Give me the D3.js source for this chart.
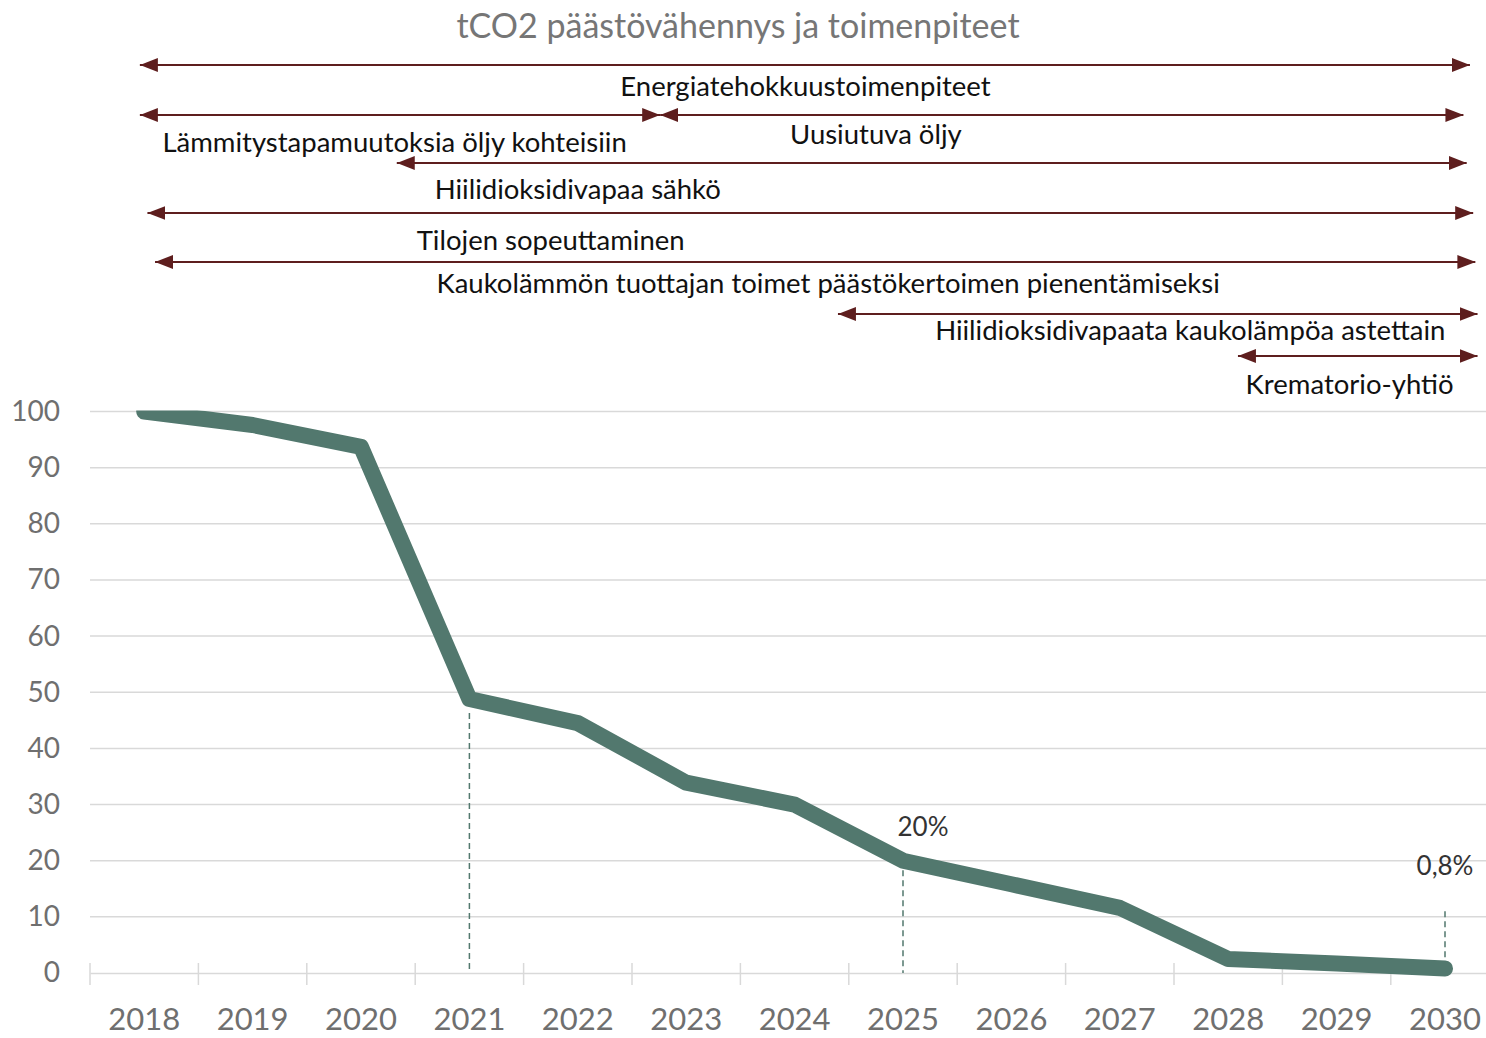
<!DOCTYPE html>
<html>
<head>
<meta charset="utf-8">
<script src="https://cdn.jsdelivr.net/npm/d3@7"></script>
<style>
  body { margin: 0; background: #fff; }
  svg { display: block; font-family: Lato, "Open Sans", sans-serif; }
</style>
</head>
<body>
<div id="graph"></div>
<script>
// chart data
const years = ["2018", "2019", "2020", "2021", "2022", "2023", "2024", "2025", "2026", "2027", "2028", "2029", "2030"];
const emissions = [100, 97.6, 93.7, 48.8, 44.5, 33.9, 30.0, 20.0, 15.8, 11.6, 2.5, 1.7, 0.8];
const yTicks = [0, 10, 20, 30, 40, 50, 60, 70, 80, 90, 100];

// measures (arrows): start / end year, label and where the label sits (year)
const measureNames = [
    "Energiatehokkuustoimenpiteet",
    "Lämmitystapamuutoksia öljy kohteisiin",
    "Uusiutuva öljy",
    "Hiilidioksidivapaa sähkö",
    "Tilojen sopeuttaminen",
    "Kaukolämmön tuottajan toimet päästökertoimen pienentämiseksi",
    "Hiilidioksidivapaata kaukolämpöa astettain",
    "Krematorio-yhtiö"
];
const measureStart = [2017.96, 2017.96, 2022.76, 2020.33, 2018.03, 2018.10, 2024.40, 2028.09];
const measureEnd   = [2030.23, 2022.76, 2030.17, 2030.20, 2030.26, 2030.28, 2030.30, 2030.30];
const measureLabelAt = [2024.10, 2020.31, 2024.75, 2022.00, 2021.75, 2024.31, 2027.65, 2029.12];

// highlighted points
const markYears = ["2021", "2025", "2030"];
const markFrom  = [46.3, 18.3, 11];
const markTo    = [0, 0, 1.5];
const pctLabels = [{year: "2025", text: "20%"}, {year: "2030", text: "0,8%"}];

// layout
const fullwidth = 1486;
const fullheight = 1038;
const plotLeft = 90;
const bandW = 108.4;
const plotTop = 411.5;
const plotBottom = 973;
const arrowRow = [65, 115, 115, 163, 213, 262, 314, 356];
const labelRow = [85, 141, 133, 188, 239, 282, 329, 383];
const lineColor = "#52786e";
const arrowColor = "#5e1e1e";

const svg = d3.select("#graph")
    .append("svg")
    .attr("width", fullwidth)
    .attr("height", fullheight);

const x = d3.scaleBand()
    .domain(years)
    .range([plotLeft, plotLeft + bandW * years.length]);
const xYear = d3.scaleLinear()
    .domain([2017.5, 2017.5 + years.length])
    .range([plotLeft, plotLeft + bandW * years.length]);
const y = d3.scaleLinear()
    .domain([0, 100])
    .range([plotBottom, plotTop]);
const xc = d => x(d) + x.bandwidth() / 2;

// title
svg.append("text")
    .attr("x", 738)
    .attr("y", 24)
    .attr("text-anchor", "middle")
    .attr("dominant-baseline", "central")
    .style("font-size", "34px")
    .style("fill", "#767676")
    .text("tCO2 päästövähennys ja toimenpiteet");

// gridlines
svg.append("g")
    .selectAll("line")
    .data(yTicks.filter(d => d > 0))
    .enter().append("line")
    .attr("x1", plotLeft)
    .attr("x2", plotLeft + bandW * years.length)
    .attr("y1", d => y(d))
    .attr("y2", d => y(d))
    .style("stroke", "#d9d9d9")
    .style("stroke-width", 1.5);

// y axis labels
const yAxis = svg.append("g")
    .attr("transform", "translate(" + (plotLeft - 30) + ",0)")
    .call(d3.axisLeft(y).tickValues(yTicks).tickSize(0).tickPadding(0));
yAxis.select(".domain").remove();
yAxis.selectAll("text")
    .style("font-size", "28px")
    .style("fill", "#6f6f6f")
    .style("font-family", "Lato, sans-serif");

// x axis
const xAxis = svg.append("g")
    .attr("transform", "translate(0," + plotBottom + ")")
    .call(d3.axisBottom(x).tickSize(0).tickPadding(0));
xAxis.select(".domain")
    .attr("stroke", "#d9d9d9")
    .attr("stroke-width", 1.5);
xAxis.selectAll(".tick text")
    .attr("y", 45)
    .attr("dy", null)
    .attr("dominant-baseline", "central")
    .style("font-size", "31px")
    .style("fill", "#6f6f6f")
    .style("font-family", "Lato, sans-serif");
// category boundary ticks
xAxis.append("g")
    .selectAll("line")
    .data(years)
    .enter().append("line")
    .attr("x1", d => x(d))
    .attr("x2", d => x(d))
    .attr("y1", -10)
    .attr("y2", 12)
    .style("stroke", "#d9d9d9")
    .style("stroke-width", 1.5);

// clip the line to the plot area (the 2018 point is cut at the top)
svg.append("defs").append("clipPath")
    .attr("id", "plotClip")
    .append("rect")
    .attr("x", 0)
    .attr("y", plotTop - 1)
    .attr("width", fullwidth)
    .attr("height", fullheight);

// dashed drop lines
svg.append("g")
    .selectAll("line")
    .data(markYears)
    .enter().append("line")
    .attr("x1", d => xc(d))
    .attr("x2", d => xc(d))
    .attr("y1", (d, i) => y(markFrom[i]))
    .attr("y2", (d, i) => y(markTo[i]))
    .style("stroke", lineColor)
    .style("stroke-width", 1.5)
    .style("stroke-dasharray", "6,4");

// emission line
const line = d3.line()
    .x((d, i) => xc(years[i]))
    .y(d => y(d));
svg.append("path")
    .datum(emissions)
    .attr("clip-path", "url(#plotClip)")
    .attr("d", line)
    .attr("fill", "none")
    .attr("stroke", lineColor)
    .attr("stroke-width", 16)
    .attr("stroke-linejoin", "round")
    .attr("stroke-linecap", "round");

// percentage labels
svg.append("g")
    .selectAll("text")
    .data(pctLabels)
    .enter().append("text")
    .attr("x", d => xc(d.year) + (d.year === "2025" ? 20 : 0))
    .attr("y", d => d.year === "2025" ? 826 : 865)
    .attr("text-anchor", "middle")
    .attr("dominant-baseline", "central")
    .style("font-size", "26px")
    .style("fill", "#333")
    .text(d => d.text);

// arrow heads
const defs = svg.append("defs");
["start", "end"].forEach(k => {
    defs.append("marker")
        .attr("id", "arrow-" + k)
        .attr("viewBox", "0 0 18 14")
        .attr("refX", k === "end" ? 18 : 0)
        .attr("refY", 7)
        .attr("markerUnits", "userSpaceOnUse")
        .attr("markerWidth", 18)
        .attr("markerHeight", 14)
        .attr("orient", "auto")
        .append("path")
        .attr("d", k === "end" ? "M0,0 L18,7 L0,14 Z" : "M18,0 L0,7 L18,14 Z")
        .attr("fill", arrowColor);
});

// measure arrows
const arrows = svg.append("g").attr("class", "measures");
arrows.selectAll("line")
    .data(measureNames)
    .enter().append("line")
    .attr("x1", (d, i) => xYear(measureStart[i]))
    .attr("x2", (d, i) => xYear(measureEnd[i]))
    .attr("y1", (d, i) => arrowRow[i])
    .attr("y2", (d, i) => arrowRow[i])
    .attr("stroke", arrowColor)
    .attr("stroke-width", 2)
    .attr("marker-start", "url(#arrow-start)")
    .attr("marker-end", "url(#arrow-end)");

arrows.selectAll("text")
    .data(measureNames)
    .enter().append("text")
    .attr("x", (d, i) => xYear(measureLabelAt[i]))
    .attr("y", (d, i) => labelRow[i])
    .attr("text-anchor", "middle")
    .attr("dominant-baseline", "central")
    .style("font-size", "27.5px")
    .style("fill", "#111")
    .text(d => d);
</script>
</body>
</html>
